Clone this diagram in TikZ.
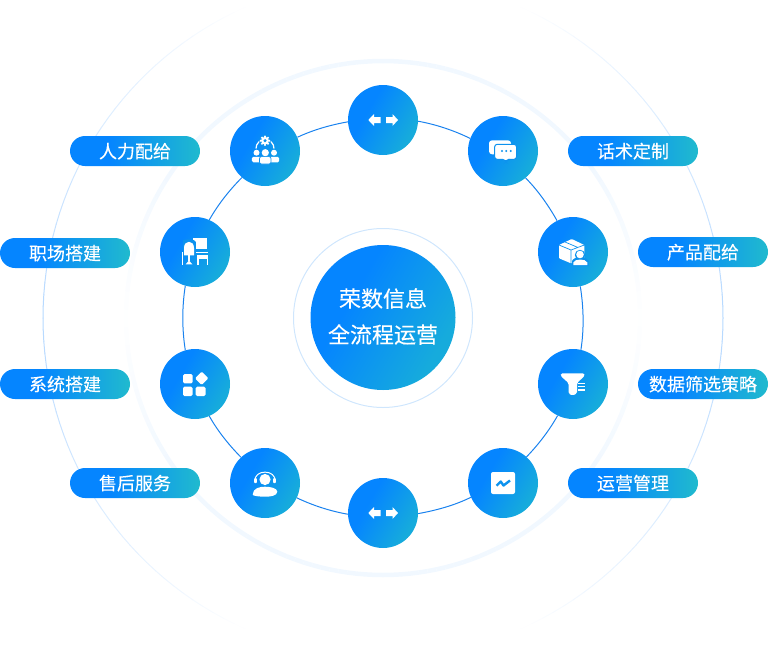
\documentclass[tikz,border=0pt]{standalone}
\usepackage{fontspec}
\setmainfont[FakeBold=0.2]{Noto Sans CJK SC}
\definecolor{gA}{HTML}{0585FF}
\definecolor{gB}{HTML}{16ABDC}
\definecolor{gC}{HTML}{20BACE}
\definecolor{ringline}{HTML}{1A82EE}
\definecolor{innerring}{HTML}{CFE6FD}
\definecolor{ringO}{HTML}{B5D8FF}
\definecolor{ringM}{HTML}{F1F8FF}
\definecolor{iconblue}{HTML}{0D92EE}
\pgfdeclarehorizontalshading{discg}{100bp}{color(0bp)=(gA); color(37bp)=(gA); color(72bp)=(gB); color(100bp)=(gB)}
\pgfdeclarehorizontalshading{pillg}{100bp}{color(0bp)=(gA); color(40bp)=(gA); color(75bp)=(gC); color(100bp)=(gC)}
\tikzset{
  disc/.style={circle,draw=none,minimum size=70pt,inner sep=0pt,shading=discg,shading angle=-30},
  hub/.style={disc,minimum size=145pt},
  hubtext/.style={text=white,align=center,yshift=1pt,font=\fontsize{22}{36}\selectfont},
  pill/.style={rectangle,rounded corners=15pt,draw=none,minimum width=130pt,minimum height=30pt,inner sep=0pt,shading=pillg,text=white,text height=15.5pt,text depth=1.5pt,font=\fontsize{18}{18}\selectfont},
  link/.style={draw=ringline,line width=1pt,looseness=0.85},
  ic/.style={fill=white,draw=none},
  icl/.style={draw=white,line width=1.3pt},
  icb/.style={draw=iconblue,line width=1pt},
}
\newcommand{\arrowicon}{%
  \fill[ic] (-14.7,0)--(-9,-6)--(-9,-3)--(-2.3,-3)--(-2.3,3)--(-9,3)--(-9,6)--cycle;
  \fill[ic] (15,0)--(9.5,-6)--(9.5,-3)--(3,-3)--(3,3)--(9.5,3)--(9.5,6)--cycle;
}
\begin{document}
\begin{tikzpicture}[x=1pt,y=-1pt]
\useasboundingbox (0,0) rectangle (768,648);
% fading rings
\begin{scope}[shift={(383,318)}]
\foreach \a in {0,2,...,358}{
  \pgfmathsetmacro{\b}{\a+2}
  \pgfmathsetmacro{\ph}{abs(asin(sin(\a+1)))}
  \pgfmathsetmacro{\so}{max(0,100*(1-\ph/66))}
  \pgfmathsetmacro{\sm}{min(100,3+97*\ph/35)}
  \draw[line width=1pt,line cap=round,draw=ringO!\so!white] (\a:340) -- (\b:340);
  \draw[line width=4.5pt,draw=ringM!\sm!white] (\a:257) -- (\b:257);
}
\end{scope}
% inner halo
\node[circle,draw=innerring,line width=1pt,minimum size=179pt,inner sep=0pt] (halo) at (383,318) {};
% discs
\node[disc] (n1) at (383,120) {};
\node[disc] (n2) at (503,151) {};
\node[disc] (n3) at (573,252) {};
\node[disc] (n4) at (573,384) {};
\node[disc] (n5) at (503,483) {};
\node[disc] (n6) at (383,513) {};
\node[disc] (n7) at (265,483) {};
\node[disc] (n8) at (195,384) {};
\node[disc] (n9) at (195,252) {};
\node[disc] (n10) at (265,151) {};
% connectors
\draw[link] (n1.-2.8) to[out=-10.3,in=154] (n2.159);
\draw[link] (n2.-50.5) to[out=-45.4,in=119.4] (n3.117);
\draw[link] (n3.-78.6) to[out=-81,in=81.1] (n4.77.6);
\draw[link] (n4.-116) to[out=-119.3,in=46] (n5.48.8);
\draw[link] (n5.-156) to[out=-153.7,in=10.3] (n6.-1.6);
\draw[link] (n6.-178.4) to[out=170,in=-25.4] (n7.-25.8);
\draw[link] (n7.133.4) to[out=134.5,in=-60.5] (n8.-66);
\draw[link] (n8.106) to[out=99,in=-99] (n9.-106);
\draw[link] (n9.66.4) to[out=60.3,in=225] (n10.-131.5);
\draw[link] (n10.23.6) to[out=25,in=190] (n1.-177.2);
% hub
\node[hub,label={[hubtext]center:{荣数信息\\全流程运营}}] (hub) at (383,317.5) {};
% pills
\node[pill] (p1) at (135,151) {人力配给};
\node[pill] (p2) at (65,253) {职场搭建};
\node[pill] (p3) at (65,384) {系统搭建};
\node[pill] (p4) at (135,483) {售后服务};
\node[pill] (p5) at (633,151) {话术定制};
\node[pill] (p6) at (703,252) {产品配给};
\node[pill] (p7) at (703,384) {数据筛选策略};
\node[pill] (p8) at (633,483) {运营管理};
% icon: arrows
\begin{scope}[shift={(n1.center)}]\arrowicon\end{scope}
\begin{scope}[shift={(n6.center)}]\arrowicon\end{scope}
% icon: chat
\begin{scope}[shift={(n2.center)}]
  \fill[ic,rounded corners=3pt] (-14,-10.7) rectangle (8,3.3);
  \filldraw[fill=white,icb,rounded corners=2.5pt] (-8.3,-6.7) -- (13.5,-6.7) -- (13.5,8.3) -- (5,8.3) -- (2.8,11) -- (0.6,8.3) -- (-8.3,8.3) -- cycle;
  \fill[iconblue] (-1,0) circle (1.15) (3.3,0) circle (1.15) (7.7,0) circle (1.15);
\end{scope}
% icon: box with person
\begin{scope}[shift={(n3.center)}]
  \fill[ic,rounded corners=0.8pt] (-14,-7) -- (-1.3,-13) -- (11.3,-7) -- (11.3,6) -- (-2,11.3) -- (-14,6.3) -- cycle;
  \draw[draw=iconblue,line width=0.7pt] (-14,-7) -- (-2,-2) -- (11.3,-7) (-2,-2) -- (-2,11.3) (-8,-10) -- (5,-4.5);
  \fill[iconblue] (7,3) circle (5.2);
  \fill[iconblue] (-1,14) -- (-1,9) .. controls (1,4) and (13,4) .. (15.5,9) -- (15.5,14) -- cycle;
  \fill[ic] (7,2.5) circle (3.8);
  \fill[ic] (0.3,13) -- (0.3,10.5) .. controls (2,6.5) and (12.5,6.5) .. (14.3,10.5) -- (14.3,13) -- cycle;
\end{scope}
% icon: filter
\begin{scope}[shift={(n4.center)}]
  \fill[ic,rounded corners=1.5pt] (-12.3,-10.7) -- (11.5,-10.7) -- (11.5,-8) -- (4,-1) -- (4,9.5) -- (-0.5,11.5) -- (-4.5,9.5) -- (-4.5,-1) -- (-12.3,-8) -- cycle;
  \draw[white,line width=1.2pt] (5.2,-0.7) -- (11.5,-0.7) (5.2,2.7) -- (11.5,2.7) (5.2,6) -- (11.5,6);
\end{scope}
% icon: chart
\begin{scope}[shift={(n5.center)}]
  \fill[ic,rounded corners=2pt] (-12,-11) rectangle (12,11);
  \draw[iconblue,line width=2.4pt,line join=round] (-6.5,2.7) -- (-2.3,-1.5) -- (0.5,2.5) -- (7,-2.5);
\end{scope}
% icon: headset person
\begin{scope}[shift={(n7.center)}]
  \fill[ic] (-12.3,11.7) .. controls (-12.3,5) and (-5,3.7) .. (0,3.7) .. controls (5,3.7) and (12.3,5) .. (12.3,8.7) .. controls (12.3,13) and (5,13.7) .. (0,13.7) .. controls (-5,13.7) and (-12.3,13) .. (-12.3,11.7) -- cycle;
  \fill[ic] (0,-3.5) circle (5.6);
  \draw[white,line width=1pt] (-10,-1.5) .. controls (-11.5,-14) and (11.5,-14) .. (10,-1.5);
  \fill[ic,rounded corners=0.8pt] (-10.8,-5) rectangle (-8.2,0) (8.2,-5) rectangle (10.8,0);
\end{scope}
% icon: grid
\begin{scope}[shift={(n8.center)}]
  \fill[ic,rounded corners=1.5pt] (-12,-10) rectangle (-2.3,-0.7);
  \fill[ic,rounded corners=1.5pt] (-12,2.7) rectangle (-2.3,12);
  \fill[ic,rounded corners=1.5pt] (0.7,2.7) rectangle (10.7,12);
  \fill[ic,rounded corners=1.2pt] (6.7,-12.4) -- (13.4,-5.7) -- (6.7,1) -- (0,-5.7) -- cycle;
\end{scope}
% icon: office desk
\begin{scope}[shift={(n9.center)}]
  \fill[ic] (-1.7,-13.7) rectangle (12,-3.2);
  \draw[icl] (-12.6,13) -- (-12.6,0.6) -- (13,0.6);
  \fill[iconblue] (-12,-12) .. controls (-6,-13) and (-0.5,-13) .. (0.8,-10) -- (0.8,4.3) -- (-12,4.3) -- cycle;
  \fill[ic] (-11,3.3) -- (-11,-4) .. controls (-11,-12.3) and (-1,-12.3) .. (-1,-4) -- (-1,3.3) -- cycle;
  \fill[ic] (2.2,2.6) rectangle (13,6.6);
  \draw[icl] (2.9,6) -- (2.9,13) (12.4,6) -- (12.4,13);
  \draw[icl] (-6,3) -- (-6,9);
  \fill[ic] (-9.3,12.3) -- (-2.7,12.3) -- (-6,8.5) -- cycle;
\end{scope}
% icon: team
\begin{scope}[shift={(n10.center)}]
  \draw[white,line width=1.2pt] (-9,-2.5) arc[start angle=180,end angle=0,radius=9pt];
  \fill[iconblue] (0,-10.3) circle (5.8);
  \foreach \t in {0,45,...,315}{\fill[ic] (0,-10.3) ++(\t:4.2) circle (1.2);}
  \fill[ic] (0,-10.3) circle (3.9);
  \fill[iconblue] (0,-10.3) circle (1.7);
  \fill[ic] (-8.5,1.7) circle (3) (0.3,1.7) circle (3.6) (9,1.7) circle (3);
  \fill[ic,rounded corners=1.5pt] (-13.2,5.8) rectangle (-3.5,11.3);
  \fill[ic,rounded corners=1.5pt] (4,5.8) rectangle (14.2,11.3);
  \filldraw[fill=white,draw=iconblue,line width=0.7pt,rounded corners=2pt] (-5.5,5.6) rectangle (6,13);
\end{scope}
\end{tikzpicture}
\end{document}
